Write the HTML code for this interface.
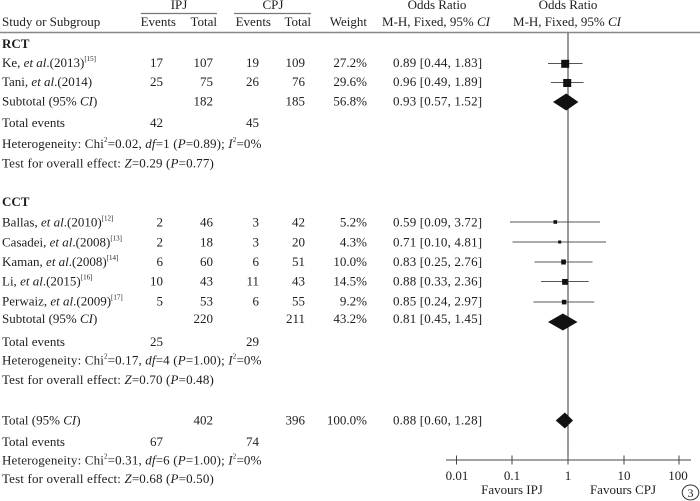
<!DOCTYPE html>
<html><head><meta charset="utf-8"><style>
html,body{margin:0;padding:0;background:#fff;}
svg{display:block;}
text{font-family:"Liberation Serif","Times New Roman",serif;font-size:13px;fill:#1e1e1e;}
.b{font-weight:bold;}
.e{text-anchor:end;}
.m{text-anchor:middle;}
.i{font-style:italic;}
.sup{font-size:7px;}
.w{letter-spacing:0.15px;}
</style></head><body>
<svg width="700" height="501" viewBox="0 0 700 501" xmlns="http://www.w3.org/2000/svg">
<!-- headers -->
<text x="179" y="9" class="m">IPJ</text>
<text x="273" y="9" class="m">CPJ</text>
<line x1="141" y1="13.5" x2="217" y2="13.5" stroke="#777" stroke-width="1.2"/>
<line x1="234" y1="13.5" x2="311" y2="13.5" stroke="#777" stroke-width="1.2"/>
<text x="437" y="9" class="m">Odds Ratio</text>
<text x="568" y="9" class="m">Odds Ratio</text>
<text x="2" y="26">Study or Subgroup</text>
<text x="176" y="26" class="e">Events</text>
<text x="217" y="26" class="e">Total</text>
<text x="271" y="26" class="e">Events</text>
<text x="311" y="26" class="e">Total</text>
<text x="367" y="26" class="e">Weight</text>
<text x="436" y="26" class="m">M-H, Fixed, 95% <tspan class="i">CI</tspan></text>
<text x="567" y="26" class="m">M-H, Fixed, 95% <tspan class="i">CI</tspan></text>
<line x1="0" y1="32.5" x2="700" y2="32.5" stroke="#888" stroke-width="1.5"/>

<!-- RCT -->
<text x="2" y="48" class="b">RCT</text>
<text x="2" y="67">Ke, <tspan class="i">et al</tspan>.(2013)<tspan class="sup" dy="-6">[15]</tspan></text>
<text x="163" y="67" class="e">17</text><text x="213" y="67" class="e">107</text><text x="259" y="67" class="e">19</text><text x="305" y="67" class="e">109</text><text x="367" y="67" class="e">27.2%</text><text x="393" y="67" class="w">0.89 [0.44, 1.83]</text>
<text x="2" y="86">Tani, <tspan class="i">et al</tspan>.(2014)</text>
<text x="163" y="86" class="e">25</text><text x="213" y="86" class="e">75</text><text x="259" y="86" class="e">26</text><text x="305" y="86" class="e">76</text><text x="367" y="86" class="e">29.6%</text><text x="393" y="86" class="w">0.96 [0.49, 1.89]</text>
<text x="2" y="105.5">Subtotal (95% <tspan class="i">CI</tspan>)</text>
<text x="213" y="105.5" class="e">182</text><text x="305" y="105.5" class="e">185</text><text x="367" y="105.5" class="e">56.8%</text><text x="393" y="105.5" class="w">0.93 [0.57, 1.52]</text>
<text x="2" y="127">Total events</text><text x="163" y="127" class="e">42</text><text x="259" y="127" class="e">45</text>
<text x="2" y="148" class="w">Heterogeneity: Chi<tspan class="sup" dy="-6">2</tspan><tspan dy="6">=0.02, </tspan><tspan class="i">df</tspan>=1 (<tspan class="i">P</tspan>=0.89); <tspan class="i">I</tspan><tspan class="sup" dy="-6">2</tspan><tspan dy="6">=0%</tspan></text>
<text x="2" y="167.5" class="w">Test for overall effect: <tspan class="i">Z</tspan>=0.29 (<tspan class="i">P</tspan>=0.77)</text>

<!-- CCT -->
<text x="2" y="206" class="b">CCT</text>
<text x="2" y="226.5">Ballas, <tspan class="i">et al</tspan>.(2010)<tspan class="sup" dy="-6">[12]</tspan></text>
<text x="163" y="226.5" class="e">2</text><text x="213" y="226.5" class="e">46</text><text x="259" y="226.5" class="e">3</text><text x="305" y="226.5" class="e">42</text><text x="367" y="226.5" class="e">5.2%</text><text x="393" y="226.5" class="w">0.59 [0.09, 3.72]</text>
<text x="2" y="246.5">Casadei, <tspan class="i">et al</tspan>.(2008)<tspan class="sup" dy="-6">[13]</tspan></text>
<text x="163" y="246.5" class="e">2</text><text x="213" y="246.5" class="e">18</text><text x="259" y="246.5" class="e">3</text><text x="305" y="246.5" class="e">20</text><text x="367" y="246.5" class="e">4.3%</text><text x="393" y="246.5" class="w">0.71 [0.10, 4.81]</text>
<text x="2" y="266">Kaman, <tspan class="i">et al</tspan>.(2008)<tspan class="sup" dy="-6">[14]</tspan></text>
<text x="163" y="266" class="e">6</text><text x="213" y="266" class="e">60</text><text x="259" y="266" class="e">6</text><text x="305" y="266" class="e">51</text><text x="367" y="266" class="e">10.0%</text><text x="393" y="266" class="w">0.83 [0.25, 2.76]</text>
<text x="2" y="285.5">Li, <tspan class="i">et al</tspan>.(2015)<tspan class="sup" dy="-6">[16]</tspan></text>
<text x="163" y="285.5" class="e">10</text><text x="213" y="285.5" class="e">43</text><text x="259" y="285.5" class="e">11</text><text x="305" y="285.5" class="e">43</text><text x="367" y="285.5" class="e">14.5%</text><text x="393" y="285.5" class="w">0.88 [0.33, 2.36]</text>
<text x="2" y="305.5">Perwaiz, <tspan class="i">et al</tspan>.(2009)<tspan class="sup" dy="-6">[17]</tspan></text>
<text x="163" y="305.5" class="e">5</text><text x="213" y="305.5" class="e">53</text><text x="259" y="305.5" class="e">6</text><text x="305" y="305.5" class="e">55</text><text x="367" y="305.5" class="e">9.2%</text><text x="393" y="305.5" class="w">0.85 [0.24, 2.97]</text>
<text x="2" y="323">Subtotal (95% <tspan class="i">CI</tspan>)</text>
<text x="213" y="323" class="e">220</text><text x="305" y="323" class="e">211</text><text x="367" y="323" class="e">43.2%</text><text x="393" y="323" class="w">0.81 [0.45, 1.45]</text>
<text x="2" y="346">Total events</text><text x="163" y="346" class="e">25</text><text x="259" y="346" class="e">29</text>
<text x="2" y="364.5" class="w">Heterogeneity: Chi<tspan class="sup" dy="-6">2</tspan><tspan dy="6">=0.17, </tspan><tspan class="i">df</tspan>=4 (<tspan class="i">P</tspan>=1.00); <tspan class="i">I</tspan><tspan class="sup" dy="-6">2</tspan><tspan dy="6">=0%</tspan></text>
<text x="2" y="384" class="w">Test for overall effect: <tspan class="i">Z</tspan>=0.70 (<tspan class="i">P</tspan>=0.48)</text>

<!-- Total -->
<text x="2" y="424.5">Total (95% <tspan class="i">CI</tspan>)</text>
<text x="213" y="424.5" class="e">402</text><text x="305" y="424.5" class="e">396</text><text x="367" y="424.5" class="e">100.0%</text><text x="393" y="424.5" class="w">0.88 [0.60, 1.28]</text>
<text x="2" y="446">Total events</text><text x="163" y="446" class="e">67</text><text x="259" y="446" class="e">74</text>
<text x="2" y="464.5" class="w">Heterogeneity: Chi<tspan class="sup" dy="-6">2</tspan><tspan dy="6">=0.31, </tspan><tspan class="i">df</tspan>=6 (<tspan class="i">P</tspan>=1.00); <tspan class="i">I</tspan><tspan class="sup" dy="-6">2</tspan><tspan dy="6">=0%</tspan></text>
<text x="2" y="483" class="w">Test for overall effect: <tspan class="i">Z</tspan>=0.68 (<tspan class="i">P</tspan>=0.50)</text>

<!-- plot -->
<line x1="568" y1="33" x2="568" y2="460" stroke="#333" stroke-width="1"/>
<g stroke="#555" stroke-width="1">
<line x1="548" y1="63.5" x2="582.5" y2="63.5"/>
<line x1="551" y1="82.5" x2="583.5" y2="82.5"/>
<line x1="510" y1="222" x2="600" y2="222"/>
<line x1="512.5" y1="242" x2="606" y2="242"/>
<line x1="534.5" y1="262" x2="592.5" y2="262"/>
<line x1="541" y1="281.5" x2="588.7" y2="281.5"/>
<line x1="533.5" y1="302" x2="594.3" y2="302"/>
</g>
<g fill="#111">
<rect x="561.2" y="59.8" width="8" height="8"/>
<rect x="563.2" y="79" width="8" height="8"/>
<rect x="553.5" y="220.2" width="3.6" height="3.6"/>
<rect x="558.2" y="240.5" width="3" height="3"/>
<rect x="561.2" y="259.5" width="4.7" height="5"/>
<rect x="562.1" y="279" width="5.6" height="5.8"/>
<rect x="561.9" y="299.8" width="4.5" height="4.6"/>
<polygon points="553,102 566.2,93.5 578.4,102 566.2,110.5"/>
<polygon points="548,322 562.9,313.5 577.5,322 562.9,330.5"/>
<polygon points="555.7,420.5 564.9,412.5 573,420.5 564.9,428.5"/>
</g>
<line x1="446" y1="460" x2="691" y2="460" stroke="#444" stroke-width="1"/>
<g stroke="#444" stroke-width="1">
<line x1="456.5" y1="455.5" x2="456.5" y2="464.5"/>
<line x1="512" y1="455.5" x2="512" y2="464.5"/>
<line x1="568" y1="455.5" x2="568" y2="464.5"/>
<line x1="624" y1="455.5" x2="624" y2="464.5"/>
<line x1="679" y1="455.5" x2="679" y2="464.5"/>
</g>
<text x="457" y="480" class="m">0.01</text>
<text x="512" y="480" class="m">0.1</text>
<text x="568" y="480" class="m">1</text>
<text x="624" y="480" class="m">10</text>
<text x="678" y="480" class="m">100</text>
<text x="512" y="494" class="m">Favours IPJ</text>
<text x="623" y="494" class="m">Favours CPJ</text>
<ellipse cx="690.5" cy="492.5" rx="8.3" ry="7.5" fill="none" stroke="#333" stroke-width="1"/>
<text x="690.5" y="497" class="m" style="font-size:12px">3</text>
</svg>
</body></html>
